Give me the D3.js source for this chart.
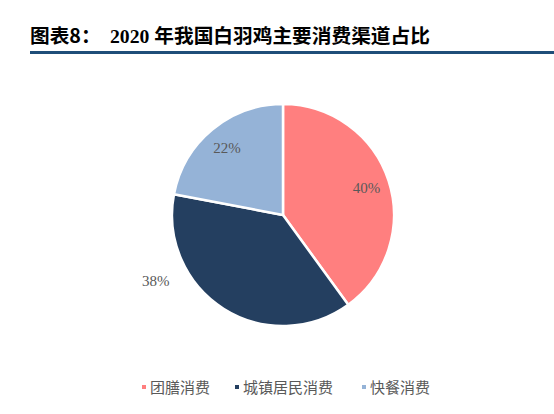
<!DOCTYPE html>
<html><head><meta charset="utf-8">
<script src="https://cdn.jsdelivr.net/npm/d3@7"></script>
<style>body{margin:0;background:#fff}</style>
</head><body>
<svg id="c" width="554" height="414"></svg>
<script>
const categories = ["团膳消费", "城镇居民消费", "快餐消费"];
const values = [40, 38, 22];
const labels = ["40%", "38%", "22%"];
const colors = ["#FF7F7F", "#243F60", "#95B3D7"];

const svg = d3.select("#c");
// title
const t = svg.append("text").attr("x", 30).attr("y", 43).attr("font-size", 19.7).attr("font-weight", "bold").attr("fill", "#000");
t.append("tspan").attr("font-family", "Noto Sans CJK SC").text("图表8：");
t.append("tspan").attr("x", 110).attr("font-family", "Liberation Serif").text("2020 ");
t.append("tspan").attr("font-family", "Noto Sans CJK SC").text("年我国白羽鸡主要消费渠道占比");
svg.append("rect").attr("x", 30).attr("y", 51).attr("width", 524).attr("height", 3).attr("fill", "#1F4E79");

const cx = 283, cy = 215, R = 111;
const g = svg.append("g").attr("transform", `translate(${cx},${cy})`);
const pie = d3.pie().sort(null).value(d => d);
const arcs = pie(values);
const arc = d3.arc().innerRadius(0).outerRadius(R);
g.selectAll("path").data(arcs).join("path")
  .attr("d", arc).attr("fill", (d, i) => colors[i])
  .attr("stroke", "#fff").attr("stroke-width", 2.5).attr("stroke-linejoin", "round");

// label positions: inside at 0.79R, the 38% label pushed outside
const labelArcIn = d3.arc().innerRadius(R * 0.79).outerRadius(R * 0.79);
const labelArcOut = d3.arc().innerRadius(R * 1.29).outerRadius(R * 1.29);
g.selectAll("text.lab").data(arcs).join("text").attr("class", "lab")
  .attr("transform", (d, i) => {
    let p;
    if (i === 1) {
      const sh = 0.53;
      p = labelArcOut.centroid({startAngle: d.startAngle + sh, endAngle: d.endAngle + sh});
    } else p = labelArcIn.centroid(d);
    return `translate(${p[0]},${p[1]})`;
  })
  .attr("text-anchor", "middle").attr("dy", "0.35em")
  .attr("font-family", "Liberation Serif").attr("font-size", 15).attr("fill", "#595959")
  .text((d, i) => labels[i]);

// legend
const legX = [142, 235, 362];
const lg = svg.append("g");
categories.forEach((c, i) => {
  lg.append("rect").attr("x", legX[i]).attr("y", 385).attr("width", 4).attr("height", 4).attr("fill", colors[i]);
  lg.append("text").attr("x", legX[i] + 8).attr("y", 392.5).attr("font-family", "Noto Sans CJK SC")
    .attr("font-size", 15).attr("fill", "#595959").text(c);
});
</script>
</body></html>
